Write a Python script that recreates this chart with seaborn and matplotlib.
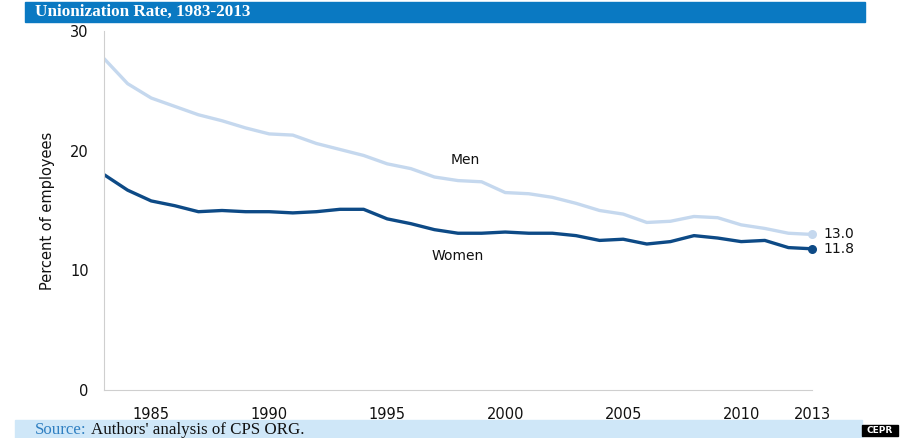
import matplotlib
matplotlib.use("Agg")
import matplotlib.pyplot as plt
import seaborn as sns
import pandas as pd
from matplotlib.patches import Rectangle

years = list(range(1983, 2014))
men = [27.7, 25.6, 24.4, 23.7, 23.0, 22.5, 21.9, 21.4, 21.3, 20.6, 20.1, 19.6,
       18.9, 18.5, 17.8, 17.5, 17.4, 16.5, 16.4, 16.1, 15.6, 15.0, 14.7, 14.0,
       14.1, 14.5, 14.4, 13.8, 13.5, 13.1, 13.0]
women = [18.0, 16.7, 15.8, 15.4, 14.9, 15.0, 14.9, 14.9, 14.8, 14.9, 15.1, 15.1,
         14.3, 13.9, 13.4, 13.1, 13.1, 13.2, 13.1, 13.1, 12.9, 12.5, 12.6, 12.2,
         12.4, 12.9, 12.7, 12.4, 12.5, 11.9, 11.8]
series_names = ["Men", "Women"]
xtick_labels = [1985, 1990, 1995, 2000, 2005, 2010, 2013]
yticks = [0, 10, 20, 30]
title = "Unionization Rate, 1983-2013"
ylabel = "Percent of employees"

df = pd.DataFrame({
    "year": years * 2,
    "value": men + women,
    "series": [series_names[0]] * len(years) + [series_names[1]] * len(years),
})

sns.set_style("white")
plt.rcParams["font.family"] = ["DejaVu Sans"]

colors = {"Men": "#c5d8ee", "Women": "#0d4a86"}

fig = plt.figure(figsize=(9, 4.38), dpi=100)
ax = fig.add_axes([104 / 900, 1 - 390 / 438, (812 - 104) / 900, (390 - 31) / 438])

sns.lineplot(data=df, x="year", y="value", hue="series", palette=colors,
             linewidth=2.4, legend=False, ax=ax)

# end markers and labels
for name, vals in (("Men", men), ("Women", women)):
    ax.scatter([years[-1]], [vals[-1]], s=30, color=colors[name], zorder=5, clip_on=False)
    ax.annotate(f"{vals[-1]:.1f}", (years[-1], vals[-1]), xytext=(8, 0),
                textcoords="offset points", va="center", ha="left",
                fontsize=10, color="#111111", annotation_clip=False)

ax.text(1998.3, 19.2, "Men", fontsize=10, ha="center", va="center", color="#111111")
ax.text(1998.0, 11.2, "Women", fontsize=10, ha="center", va="center", color="#111111")

ax.set_xlim(1983, 2013)
ax.set_ylim(0, 30)
ax.set_xticks(xtick_labels)
ax.set_xticklabels([str(t) for t in xtick_labels], fontsize=10.5, color="#111111")
ax.set_yticks(yticks)
ax.set_yticklabels([str(t) for t in yticks], fontsize=10.5, color="#111111")
ax.tick_params(axis="x", length=0, pad=12)
ax.tick_params(axis="y", length=5, color="#c8c8c8", width=0.8, pad=6, direction="out")
ax.set_xlabel("")
ax.set_ylabel(ylabel, fontsize=10.5, color="#111111", labelpad=11)
for s in ("top", "right"):
    ax.spines[s].set_visible(False)
for s in ("left", "bottom"):
    ax.spines[s].set_color("#cfcfcf")
    ax.spines[s].set_linewidth(0.8)

# title bar
fig.patches.append(Rectangle((25 / 900, 1 - 22 / 438), 840 / 900, 20 / 438,
                             transform=fig.transFigure, color="#0a79c2", zorder=0))
fig.text(35 / 900, 1 - 12 / 438, title, color="white", fontsize=12.3,
         fontweight="bold", family=["Liberation Serif"], va="center", ha="left")

# source bar
fig.patches.append(Rectangle((15 / 900, 0), 847 / 900, 18 / 438,
                             transform=fig.transFigure, color="#cfe7f8", zorder=0))
t1 = fig.text(35 / 900, 8 / 438, "Source:", color="#2f7fc1", fontsize=12.2,
              family=["Liberation Serif"], va="center", ha="left")
fig.canvas.draw()
bb = t1.get_window_extent()
fig.text(bb.x1 / 900 + 4 / 900, 8 / 438, "Authors' analysis of CPS ORG.",
         color="#111111", fontsize=12.2, family=["Liberation Serif"], va="center", ha="left")

# CEPR logo box
fig.patches.append(Rectangle((862 / 900, 2 / 438), 36 / 900, 11 / 438,
                             transform=fig.transFigure, color="black", zorder=0))
fig.text(880 / 900, 7.5 / 438, "CEPR", color="white", fontsize=6.5,
         fontweight="bold", va="center", ha="center")

fig.savefig("out.png", dpi=100)
